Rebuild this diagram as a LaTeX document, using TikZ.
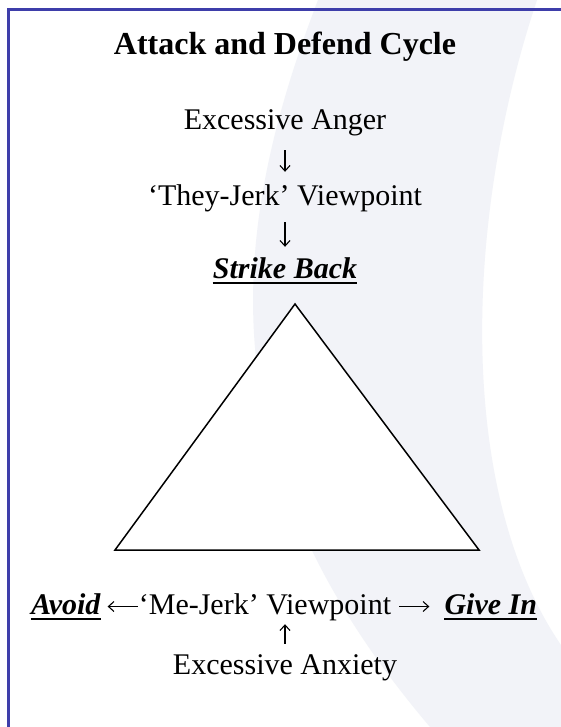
\documentclass[tikz,border=0pt]{standalone}
\usepackage{fontspec}
\setmainfont{Liberation Serif}
\usepackage{tikz}
\usetikzlibrary{arrows.meta,positioning}
\definecolor{frameblue}{HTML}{3E3EAA}
\definecolor{swoosh}{HTML}{F2F3F8}
\definecolor{ink}{HTML}{000000}
\newcommand\bodysize{\fontsize{30}{36}\selectfont}
\tikzset{
  txt/.style  ={inner sep=0pt,text height=21pt,text depth=6pt,anchor=base,
                font=\bodysize},
  ttl/.style  ={txt,font=\fontsize{32}{38}\selectfont\bfseries},
  act/.style  ={txt,font=\bodysize\bfseries\itshape},
  uline/.style={line width=2.4pt,draw=ink},
  flow/.style ={-{Straight Barb[length=5.5pt,width=10pt]},line width=1.1pt,draw=ink},
  tri/.style  ={draw=ink,line width=1.5pt,fill=white,line join=miter},
  frame/.style={draw=frameblue,line width=2.6pt}
}

\begin{document}
\begin{tikzpicture}[x=1pt,y=-1pt,font=\bodysize]
  \useasboundingbox (0,0) rectangle (561,727);
  \clip (0,0) rectangle (561,727);
  \fill[white] (0,0) rectangle (561,727);
  % pale swoosh behind the slide
  \fill[swoosh] (318,0) .. controls (222,250) and (212,470) .. (430,727)
    -- (561,727) -- (561,645) .. controls (455,490) and (465,215) .. (537,0) -- cycle;
  \draw[frame] (8.5,9.5) rectangle (580,745);

  \node[ttl] (title) at (285,55) {Attack and Defend Cycle};
  \node[txt] (anger) at (285,130) {Excessive Anger};
  \node[txt] (theyjerk) at (285,206) {‘They-Jerk’ Viewpoint};
  \node[act] (strike) at (285,278) {Strike Back};

  \draw[tri] (295,304) -- (479,550) -- (115,550) -- cycle;

  \node[txt] (mejerk) at (265,614) {‘Me-Jerk’ Viewpoint};
  \node[act,left=38pt of mejerk] (avoid) {Avoid};
  \node[act,right=53pt of mejerk] (givein) {Give In};
  \node[txt] (anxiety) at (285,674) {Excessive Anxiety};

  \draw[flow,shorten <=14pt,shorten >=13pt] (anger) -- (theyjerk);
  \draw[flow,shorten <=10pt,shorten >=10pt] (theyjerk) -- (strike);
  \draw[flow,shorten <=1pt,shorten >=7pt] (mejerk) -- (avoid);
  \draw[flow,shorten <=8pt,shorten >=15pt] (mejerk) -- (givein);
  \draw[flow,shorten <=9pt,shorten >=4pt] (anxiety.north) -- (anxiety.north |- mejerk.south);

  \foreach \w in {strike,avoid,givein}
    \draw[uline] ([yshift=-5pt]\w.base west) -- ([yshift=-5pt]\w.base east);
\end{tikzpicture}
\end{document}
